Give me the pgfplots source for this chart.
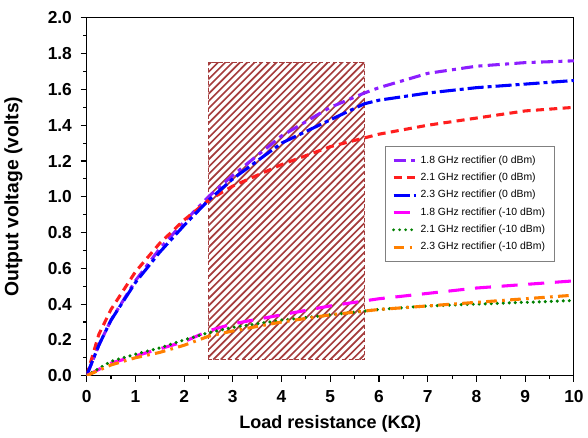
\documentclass[border=0pt]{standalone}
\usepackage{pgfplots}
\pgfplotsset{compat=1.18}
\usepackage{fontspec}
\setmainfont{Liberation Sans}
\definecolor{cpurple}{RGB}{140,30,255}
\definecolor{cred}{RGB}{255,30,30}
\definecolor{cblue}{RGB}{0,0,255}
\definecolor{cmag}{RGB}{255,0,255}
\definecolor{cgreen}{RGB}{0,128,0}
\definecolor{corange}{RGB}{255,128,0}
\definecolor{hatch}{RGB}{165,60,60}
\begin{document}
\begin{tikzpicture}
\begin{axis}[
  scale only axis,
  width=365pt, height=268pt,
  xmin=0, xmax=10, ymin=0, ymax=2,
  xtick={0,1,...,10},
  ytick={0,0.2,...,2.0},
  minor x tick num=1,
  minor y tick num=1,
  tick align=outside,
  tick pos=left,
  major tick length=4.5pt,
  minor tick length=2.5pt,
  every tick/.style={black, line width=0.8pt},
  axis line style={line width=0.8pt},
  /pgf/number format/assume math mode=true,
  tick label style={font=\fontsize{13}{15}\selectfont\bfseries},
  xticklabel style={yshift=-3pt},
  yticklabel style={xshift=-3pt, /pgf/number format/.cd, fixed, fixed zerofill, precision=1},
  xlabel={\bfseries Load resistance (KΩ)},
  ylabel={\bfseries Output voltage (volts)},
  xlabel style={font=\fontsize{13.5}{15}\selectfont, yshift=-3pt},
  ylabel style={font=\fontsize{14.5}{17}\selectfont, yshift=12pt},
  legend style={at={(0.612,0.642)}, anchor=north west, draw=gray, line width=0.8pt,
    font=\fontsize{7.8}{10}\selectfont, row sep=1.8pt, inner sep=5pt},
  legend cell align=left,
  legend image post style={line width=2.3pt},
  extra description/.code={\path (rel axis cs:0,1.05);},
]
% hatched region
\addplot[forget plot, fill=white, draw=none] coordinates {(2.5,0.09) (5.7,0.09) (5.7,1.75) (2.5,1.75)} -- cycle;
\begin{scope}
\clip (axis cs:2.5,0.09) rectangle (axis cs:5.7,1.75);
\pgfplotsinvokeforeach{0,...,63}{
  \draw[hatch, line width=1.25pt] (axis cs:{-3.7+0.15*#1},0.09) -- ++(axis direction cs:6.5,1.771);
}
\end{scope}
\addplot[forget plot, draw=hatch, dash pattern=on 3pt off 2pt,
  line width=0.9pt] coordinates {(2.5,0.09) (5.7,0.09) (5.7,1.75) (2.5,1.75)} -- cycle;

\addplot[cpurple, line width=2.3pt, dash pattern=on 9pt off 4pt on 3pt off 4pt] coordinates {
 (0,0) (0.25,0.17) (0.5,0.31) (1,0.53) (1.5,0.71) (2,0.86) (2.5,1.0) (3,1.12) (4,1.34)
 (5,1.5) (5.7,1.58) (6,1.61) (7,1.69) (8,1.73) (9,1.75) (10,1.76)};
\addlegendentry{1.8 GHz rectifier (0 dBm)}
\addplot[cred, line width=2.3pt, dash pattern=on 6pt off 4pt] coordinates {
 (0,0) (0.25,0.23) (0.5,0.37) (1,0.58) (1.5,0.74) (2,0.87) (2.5,0.98) (3,1.06) (4,1.18)
 (5,1.28) (6,1.35) (7,1.4) (8,1.44) (9,1.48) (10,1.5)};
\addlegendentry{2.1 GHz rectifier (0 dBm)}
\addplot[cblue, line width=2.3pt, dash pattern=on 12pt off 3pt on 3pt off 3pt] coordinates {
 (0,0) (0.25,0.17) (0.5,0.31) (1,0.52) (1.5,0.69) (2,0.84) (2.5,0.98) (3,1.1) (4,1.3)
 (5,1.43) (5.7,1.52) (6,1.54) (7,1.58) (8,1.61) (9,1.63) (10,1.65)};
\addlegendentry{2.3 GHz rectifier (0 dBm)}
\addplot[cmag, line width=2.3pt, dash pattern=on 12pt off 8pt] coordinates {
 (0,0) (0.5,0.07) (1,0.11) (1.5,0.15) (2,0.19) (2.5,0.25) (3,0.29) (4,0.34) (5,0.39) (6,0.43)
 (7,0.46) (8,0.49) (9,0.51) (10,0.53)};
\addlegendentry{1.8 GHz rectifier (-10 dBm)}
\addplot[cgreen, line width=2.6pt, line cap=round, dash pattern=on 0pt off 4.5pt] coordinates {
 (0,0) (0.5,0.08) (1,0.12) (1.5,0.155) (2,0.2) (2.5,0.24) (3,0.27) (4,0.31) (5,0.34) (6,0.37)
 (7,0.39) (8,0.4) (9,0.41) (10,0.42)};
\addlegendentry{2.1 GHz rectifier (-10 dBm)}
\addplot[corange, line width=2.3pt, dash pattern=on 8pt off 4pt on 2pt off 4pt] coordinates {
 (0,0) (0.5,0.06) (1,0.1) (1.5,0.13) (2,0.17) (2.5,0.22) (3,0.25) (4,0.3) (5,0.34) (6,0.37)
 (7,0.39) (8,0.41) (9,0.43) (10,0.45)};
\addlegendentry{2.3 GHz rectifier (-10 dBm)}
\end{axis}
\end{tikzpicture}
\end{document}
